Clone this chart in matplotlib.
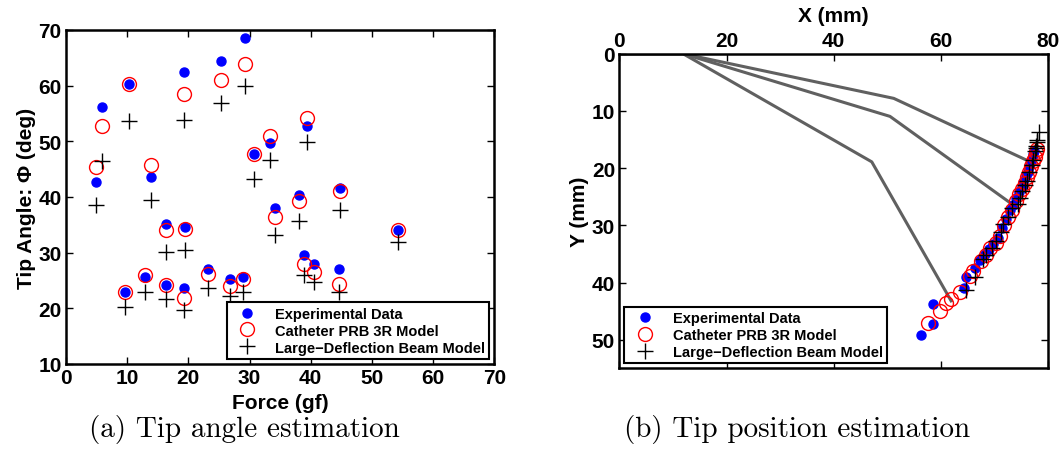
import numpy as np
import matplotlib
matplotlib.use('Agg')
import matplotlib.pyplot as plt

plt.rcParams['font.family'] = ['Liberation Sans', 'DejaVu Sans']
plt.rcParams['font.weight'] = 'bold'

# (a) tip angle vs force
force = [4.9, 5.9, 10.3, 13.9, 19.3, 25.4, 29.3, 30.8, 33.3, 39.4,
         16.3, 19.5, 34.1, 38.1, 44.8, 54.3,
         9.7, 12.9, 16.3, 19.3, 23.3, 26.8, 29.0, 38.9, 40.6, 44.7]
angle_exp = [42.6, 56.2, 60.2, 43.6, 62.4, 64.4, 68.6, 47.8, 49.7, 52.8,
             35.2, 34.6, 38.0, 40.3, 41.6, 34.0,
             22.9, 25.6, 24.1, 23.7, 27.1, 25.2, 25.6, 29.5, 27.9, 27.1]
angle_prb = [45.4, 52.8, 60.2, 45.7, 58.4, 61.0, 63.8, 47.8, 51.0, 54.2,
             34.1, 34.3, 36.4, 39.2, 41.1, 34.0,
             22.9, 26.0, 24.2, 21.8, 26.1, 24.0, 25.2, 27.9, 26.6, 24.3]
angle_beam = [38.6, 46.4, 53.6, 39.4, 53.8, 56.9, 59.9, 43.2, 46.6, 49.8,
              30.1, 30.5, 33.1, 35.7, 37.7, 31.9,
              20.2, 23.0, 21.6, 19.7, 23.7, 22.2, 23.0, 26.0, 24.8, 23.0]

# (b) tip positions
x_exp = [56.3, 58.6, 58.6, 64.3, 64.6, 66.3, 67.3, 68.3, 69.0, 69.8, 70.6, 71.4, 72.2,
         72.8, 73.4, 74.0, 74.6, 75.1, 75.4, 75.8, 76.2, 76.5, 76.8, 77.0, 77.2, 77.4]
y_exp = [49.2, 47.2, 43.8, 40.9, 39.1, 37.5, 36.0, 35.0, 34.2, 33.2, 32.2, 30.4, 28.9,
         27.4, 26.4, 25.2, 24.2, 23.3, 22.4, 21.4, 20.6, 19.8, 19.0, 18.3, 17.6, 17.0]
x_prb = [57.6, 59.9, 61.0, 61.8, 63.5, 65.5, 66.0, 67.5, 68.4, 69.2, 70.2, 71.0, 71.8,
         72.6, 73.2, 74.0, 74.6, 75.2, 75.6, 76.0, 76.4, 76.8, 77.2, 77.6, 77.8, 78.0]
y_prb = [47.0, 44.9, 43.5, 42.9, 41.6, 38.8, 38.0, 36.2, 35.2, 34.0, 33.0, 31.8, 30.0,
         28.6, 27.3, 25.8, 24.6, 23.6, 22.6, 21.6, 20.6, 19.6, 18.8, 18.0, 17.2, 16.6]
x_beam = [64.7, 66.3, 67.9, 68.5, 69.6, 70.3, 71.2, 71.6, 72.5, 73.2, 74.4, 74.8, 75.2,
          75.6, 76.0, 76.5, 76.9, 77.2, 77.6, 77.7, 77.8, 77.95, 78.0, 78.3]
y_beam = [41.3, 39.1, 35.9, 35.2, 34.0, 32.8, 31.2, 29.8, 28.5, 27.0, 26.3, 25.2, 24.0,
          23.0, 22.2, 20.7, 19.4, 18.6, 17.0, 16.5, 16.2, 15.5, 15.0, 13.75]

# catheter shapes (PRB 3R links)
shapes_x = [[0, 11.9, 51.2, 76.9], [0, 11.9, 50.5, 73.5], [0, 11.9, 47.1, 61.9]]
shapes_y = [[0, 0, 7.8, 19.0], [0, 0, 10.95, 26.45], [0, 0, 18.9, 43.2]]

labels = ['Experimental Data', 'Catheter PRB 3R Model', 'Large\u2212Deflection Beam Model']

fig = plt.figure(figsize=(10.63, 4.64), dpi=100)
ax1 = fig.add_axes([0.062, 0.2134, 0.403, 0.72])
ax2 = fig.add_axes([0.5826, 0.204, 0.4034, 0.678])


def style(ax):
    for s in ax.spines.values():
        s.set_linewidth(1.8)
    ax.tick_params(direction='in', length=5, width=1, labelsize=15, pad=3,
                   top=True, right=True)
    for t in ax.get_xticklabels() + ax.get_yticklabels():
        t.set_fontweight('bold')


def legend(ax, handles, loc):
    leg = ax.legend(handles, labels, loc=loc, fontsize=10.5, fancybox=False, framealpha=1,
                    borderaxespad=0.35, handlelength=2.2, labelspacing=0.2,
                    borderpad=0.3, handletextpad=0.8)
    leg.get_frame().set_edgecolor('black')
    leg.get_frame().set_linewidth(1.5)
    for t in leg.get_texts():
        t.set_fontweight('bold')


h1 = ax1.plot(force, angle_exp, 'o', color='blue', ms=6.5, mec='blue')
h2 = ax1.plot(force, angle_prb, 'o', mfc='none', mec='red', ms=10, mew=1)
h3 = ax1.plot(force, angle_beam, '+', color='black', ms=11, mew=1)
ax1.set_xlim(0, 70)
ax1.set_ylim(10, 70)
ax1.set_xticks(np.arange(0, 71, 10))
ax1.set_yticks(np.arange(10, 71, 10))
ax1.set_xlabel('Force (gf)', fontsize=15, fontweight='bold', labelpad=4)
ax1.set_ylabel('Tip Angle: \u03a6 (deg)', fontsize=15, fontweight='bold', labelpad=2)
style(ax1)
legend(ax1, h1 + h2 + h3, 'lower right')

for sx, sy in zip(shapes_x, shapes_y):
    ax2.plot(sx, sy, '-', color='#606060', lw=2.2)
g1 = ax2.plot(x_exp, y_exp, 'o', color='blue', ms=6.5, mec='blue')
g2 = ax2.plot(x_prb, y_prb, 'o', mfc='none', mec='red', ms=10, mew=1)
g3 = ax2.plot(x_beam, y_beam, '+', color='black', ms=11, mew=1)
ax2.set_xlim(0, 80)
ax2.set_ylim(55, 0)
ax2.set_xticks(np.arange(0, 81, 20))
ax2.set_yticks(np.arange(0, 51, 10))
ax2.xaxis.tick_top()
ax2.xaxis.set_label_position('top')
ax2.set_xlabel('X (mm)', fontsize=15, fontweight='bold', labelpad=7)
ax2.set_ylabel('Y (mm)', fontsize=15, fontweight='bold', labelpad=2)
style(ax2)
ax2.tick_params(labeltop=True, labelbottom=False, bottom=True)
legend(ax2, g1 + g2 + g3, 'lower left')

fig.text(0.2295, 0.058, '(a) Tip angle estimation', fontsize=21, family='cmr10', ha='center')
fig.text(0.75, 0.058, '(b) Tip position estimation', fontsize=21, family='cmr10', ha='center')

fig.savefig('out.png', dpi=100)
